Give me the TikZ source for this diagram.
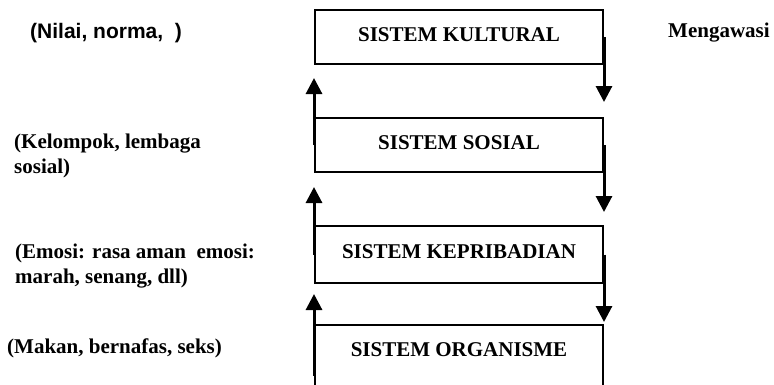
\documentclass[tikz,border=0pt]{standalone}
\usepackage{fontspec}
\setmainfont{Liberation Serif}
\newfontfamily\arialfont{Liberation Sans}
\usepackage{tikz}
\usetikzlibrary{arrows.meta,calc}

\begin{document}
\begin{tikzpicture}[x=1pt,y=-1pt,>={Triangle[width=16pt,length=16pt]},
		font=\fontsize{21}{25}\selectfont\bfseries]
			\tikzset{
				sistem/.style={draw, line width=2pt, anchor=north, minimum width=288pt, inner xsep=0pt, inner ysep=0pt, text height=31pt, text depth=23pt},
				alur/.style={->, line width=3pt},
				ket/.style={anchor=base west, align=left, inner sep=0pt}
			}
			\path [use as bounding box, clip] (0,0) rectangle (774,384);

			\node (kultural) [sistem] at (459,9) {SISTEM KULTURAL};
			\node (sosial) [sistem] at (459,117) {SISTEM SOSIAL};
			\node (kepribadian) [sistem, text height=32pt, text depth=25pt] at (459,225) {SISTEM KEPRIBADIAN};
			\node (organisme) [sistem, text depth=70pt] at (459,324) {SISTEM ORGANISME};

			% two-line labels sit on the baseline of their last line
			\node (nilai) [ket, font=\arialfont\fontsize{21}{25}\selectfont\bfseries] at (30,38) {(Nilai, norma,\ \ )};
			\node (kelompok) [ket] at (14,173) {(Kelompok, lembaga\\sosial)};
			\node (emosi) [ket] at (15,283) {(Emosi: rasa aman\ \ emosi:\\marah, senang, dll)};
			\node (makan) [ket] at (7,353) {(Makan, bernafas, seks)};
			\node (mengawasi) [ket] at (668,37) {Mengawasi};

			\draw [alur, shorten >=15pt] (kultural.east) -- (sosial.north east);
			\draw [alur, shorten >=13pt] (sosial.east) -- (kepribadian.north east);
			\draw [alur, shorten >=2pt] (kepribadian.east) -- (organisme.north east);

			\draw [alur, shorten >=13pt] (sosial.west) -- (kultural.south west);
			\draw [alur, shorten >=14pt] (kepribadian.west) -- (sosial.south west);
			\draw [alur, shorten >=10pt] (organisme.west) -- (kepribadian.south west);
		\end{tikzpicture}
\end{document}
